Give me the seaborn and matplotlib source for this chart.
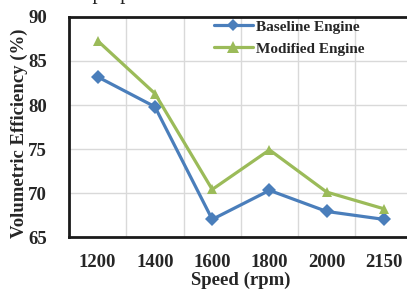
import matplotlib
matplotlib.use("Agg")
import matplotlib.pyplot as plt
import seaborn as sns
import pandas as pd
from matplotlib.lines import Line2D
from matplotlib.ticker import FixedLocator

speeds = ["1200", "1400", "1600", "1800", "2000", "2150"]
baseline = [83.2, 79.8, 67.0, 70.3, 67.9, 67.0]
modified = [87.3, 81.3, 70.4, 74.9, 70.1, 68.2]
series_names = ["Baseline Engine", "Modified Engine"]
y_ticks = [65, 70, 75, 80, 85, 90]

sns.set_theme(style="white")
plt.rcParams['font.family'] = ['Liberation Serif', 'DejaVu Serif']

df = pd.DataFrame({
    "Speed": speeds * 2,
    "VE": baseline + modified,
    "Engine": [series_names[0]] * len(speeds) + [series_names[1]] * len(speeds),
})

blue = "#4A7EBB"
green = "#9BBB59"
palette = {series_names[0]: blue, series_names[1]: green}
markers = {series_names[0]: "D", series_names[1]: "^"}

fig = plt.figure(figsize=(4.07, 2.91), dpi=100)
ax = fig.add_axes([69/407, 1-237/291, (412.7-69)/407, (237-17)/291])

sns.lineplot(data=df, x="Speed", y="VE", hue="Engine", style="Engine",
             palette=palette, markers=markers, dashes=False, linewidth=2.3,
             markersize=7, markeredgewidth=0, ax=ax, legend=False, sort=False)

ax.set_xlim(-0.5, len(speeds) - 0.5)
ax.set_ylim(65, 90)
ax.set_yticks(y_ticks)
ax.set_xticks(range(len(speeds)))
ax.set_xticklabels(speeds)
ax.xaxis.set_minor_locator(FixedLocator([i + 0.5 for i in range(len(speeds) - 1)]))
ax.grid(False)
ax.grid(True, which="minor", axis="x", color="#D9D9D9", linewidth=1)
ax.grid(True, which="major", axis="y", color="#D9D9D9", linewidth=1)
ax.tick_params(axis="both", which="both", length=0)
ax.tick_params(axis="x", pad=12, labelsize=13.5)
ax.tick_params(axis="y", pad=16, labelsize=13.5)
for lab in ax.get_xticklabels() + ax.get_yticklabels():
    lab.set_fontweight("bold")
for s in ax.spines.values():
    s.set_color("#1a1a1a")
    s.set_linewidth(2)
ax.set_xlabel("Speed (rpm)", fontsize=13.5, fontweight="bold", labelpad=1)
ax.set_ylabel("Volumetric Efficiency (%)", fontsize=13.5, fontweight="bold")
ax.yaxis.set_label_coords(-0.118, 0.47)

handles = [
    Line2D([], [], color=blue, marker="D", markersize=6, linewidth=2.3, markeredgewidth=0),
    Line2D([], [], color=green, marker="^", markersize=8, linewidth=2.3, markeredgewidth=0),
]
ax.legend(handles, series_names, loc="upper left", bbox_to_anchor=(0.405, 1.015),
          frameon=False, prop={"weight": "bold", "size": 11},
          handlelength=2.5, handletextpad=0.2, labelspacing=0.55, borderaxespad=0)

fig.text(0.5, 1.0 + 5/291, "leads to a proportionate increase in the volume",
         ha="center", va="center", fontsize=15, color="#222222")

fig.savefig("out.png", dpi=100)
